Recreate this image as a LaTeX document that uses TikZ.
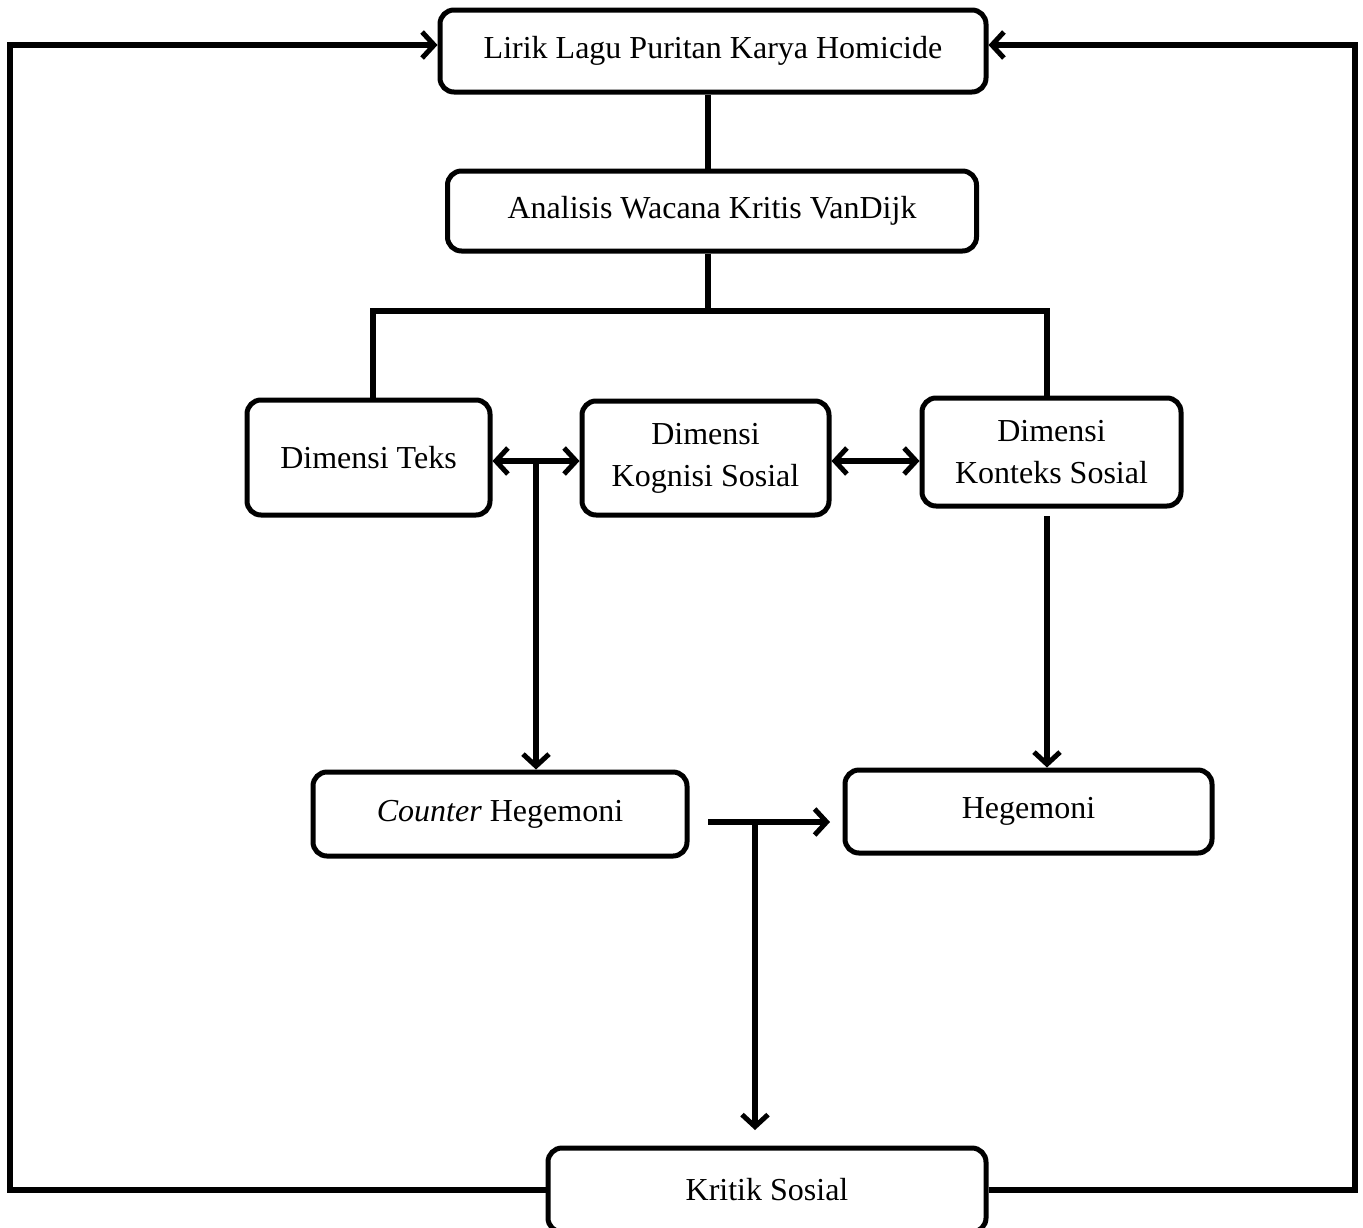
\documentclass[tikz,border=0pt]{standalone}
\usepackage{fontspec}
\setmainfont{Liberation Serif}
\usetikzlibrary{arrows.meta}
\begin{document}
\begin{tikzpicture}[x=1pt,y=-1pt,
  box/.style={draw, line width=5pt, rounded corners=14pt, fill=white, inner sep=0pt, align=center,
    font=\fontsize{32}{42}\selectfont},
  line/.style={line width=5.5pt},
  tip/.style={},
  arr/.style={line width=5.5pt, -{Straight Barb[length=12pt,width=26pt,line width=5pt]}},
  darr/.style={line width=5.5pt, {Straight Barb[length=12pt,width=26pt,line width=5pt]}-{Straight Barb[length=12pt,width=26pt,line width=5pt]}}]
\clip (0,0) rectangle (1363,1227);
\fill[white] (0,0) rectangle (1363,1227);
% nodes
\node[box, minimum width=546pt, minimum height=82pt] (lirik) at (713,51) {Lirik Lagu Puritan Karya Homicide};
\node[box, minimum width=529pt, minimum height=80pt] (analisis) at (712,211) {Analisis Wacana Kritis VanDijk};
\node[box, minimum width=243pt, minimum height=115pt] (teks) at (368.5,457.5) {Dimensi Teks};
\node[box, minimum width=247pt, minimum height=114pt] (kog) at (705.5,458) {Dimensi\\Kognisi Sosial};
\node[box, minimum width=259pt, minimum height=108pt] (konteks) at (1051.5,452) {Dimensi\\Konteks Sosial};
\node[box, minimum width=374pt, minimum height=84pt] (counter) at (500,814) {\textit{Counter} Hegemoni};
\node[box, minimum width=367pt, minimum height=83pt] (hege) at (1028.5,811.5) {Hegemoni};
\node[box, minimum width=438pt, minimum height=84pt] (kritik) at (767,1190) {Kritik Sosial};
% helper coordinates
\coordinate (jtop) at (708,311);
\coordinate (jl) at (373,311);
\coordinate (jr) at (1047,311);
\coordinate (ymid) at (0,461);
\coordinate (jc) at (536,461);
\coordinate (kstart) at (1047,516);
\coordinate (hstart) at (708,822);
\coordinate (hend) at (830,822);
\coordinate (hj) at (755,822);
\coordinate (kend) at (755,1130);
\coordinate (lb) at (10,1190);
\coordinate (lt) at (10,45);
\coordinate (rb) at (1355,1190);
\coordinate (rt) at (1355,45);
% connectors
\draw[line] (lirik.south -| jtop) -- (analisis.north -| jtop);
\draw[line] (analisis.south -| jtop) -- (jtop);
\draw[line] (teks.north -| jl) -- (jl) -- (jr) -- (konteks.north -| jr);
\draw[darr] (teks.east |- ymid) -- (kog.west |- ymid);
\draw[darr] (kog.east |- ymid) -- (konteks.west |- ymid);
\draw[arr] (jc) -- (counter.north -| jc);
\draw[arr] (kstart) -- (hege.north -| kstart);
\draw[arr] (hstart) -- (hend);
\draw[arr] (hj) -- (kend);
\draw[arr] (kritik.west |- lb) -- (lb) -- (lt) -- (lirik.west |- lt);
\draw[arr] (kritik.east |- rb) -- (rb) -- (rt) -- (lirik.east |- rt);
\end{tikzpicture}
\end{document}
